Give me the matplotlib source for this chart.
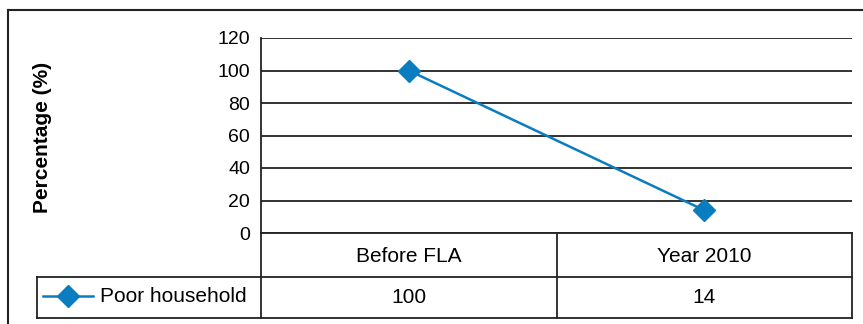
import matplotlib.pyplot as plt
from matplotlib.lines import Line2D
from matplotlib.transforms import blended_transform_factory

plt.rcParams['font.family'] = ['Liberation Sans', 'DejaVu Sans']

categories = ['Before FLA', 'Year 2010']
poor_household = [100, 14]
series_name = 'Poor household'
y_ticks = [0, 20, 40, 60, 80, 100, 120]

W, H = 863, 324
fig = plt.figure(figsize=(W / 100, H / 100), dpi=100)

def fx(px):
    return px / W

def fy(py):
    return 1 - py / H

blue = '#0a7dc0'
edge = '#222222'

# plot area
left, right, top, bottom = 261, 852, 38, 233
ax = fig.add_axes([fx(left), fy(bottom), fx(right - left), fy(top) - fy(bottom)])
xs = list(range(len(categories)))
ax.plot(xs, poor_household, color=blue, lw=1.8, marker='D', ms=11, mec=blue, mfc=blue)
ax.set_xlim(-0.5, len(categories) - 0.5)
ax.set_ylim(0, 120)
ax.set_yticks(y_ticks)
ax.set_xticks([])
ax.tick_params(axis='y', length=0, pad=8, labelsize=14)
ax.yaxis.grid(True, color=edge, lw=1.3)
ax.set_axisbelow(True)
for s in ['top', 'right', 'bottom']:
    ax.spines[s].set_visible(False)
ax.spines['left'].set_color(edge)
ax.spines['left'].set_linewidth(1.3)
fig.text(fx(42), fy(137), 'Percentage (%)', rotation=90, fontsize=15,
         fontweight='bold', ha='center', va='center')

# data table under the axes
row1, row2, row3 = 233, 277, 318
tbl_left = 37

def hline(x0, x1, y):
    fig.add_artist(Line2D([fx(x0), fx(x1)], [fy(y), fy(y)], color=edge, lw=1.3))

def vline(x, y0, y1):
    fig.add_artist(Line2D([fx(x), fx(x)], [fy(y0), fy(y1)], color=edge, lw=1.3))

hline(left, right, row1)
hline(tbl_left, right, row2)
hline(tbl_left, right, row3)
vline(left, row1, row3)
vline(tbl_left, row2, row3)
vline(right, row1, row3)
for k in range(1, len(categories)):
    xpix = ax.transData.transform((k - 0.5, 0))[0]
    vline(xpix, row1, row3)

trans = blended_transform_factory(ax.transData, fig.transFigure)
for x, cat, val in zip(xs, categories, poor_household):
    fig.text(x, fy((row1 + row2) / 2 + 1), cat, transform=trans,
             ha='center', va='center', fontsize=15)
    fig.text(x, fy((row2 + row3) / 2), str(val), transform=trans,
             ha='center', va='center', fontsize=15)

# legend key in the table
fig.add_artist(Line2D([fx(43), fx(93)], [fy(296), fy(296)], color=blue, lw=1.8))
fig.add_artist(Line2D([fx(68)], [fy(296)], color=blue, marker='D', ms=11, mec=blue, mfc=blue))
fig.text(fx(100), fy(297), series_name, ha='left', va='center', fontsize=15)

# outer frame
fig.add_artist(Line2D([fx(8), fx(8)], [fy(10), 0], color=edge, lw=1.5))
fig.add_artist(Line2D([fx(8), 1], [fy(10), fy(10)], color=edge, lw=1.5))

fig.savefig('out.png', dpi=100)
